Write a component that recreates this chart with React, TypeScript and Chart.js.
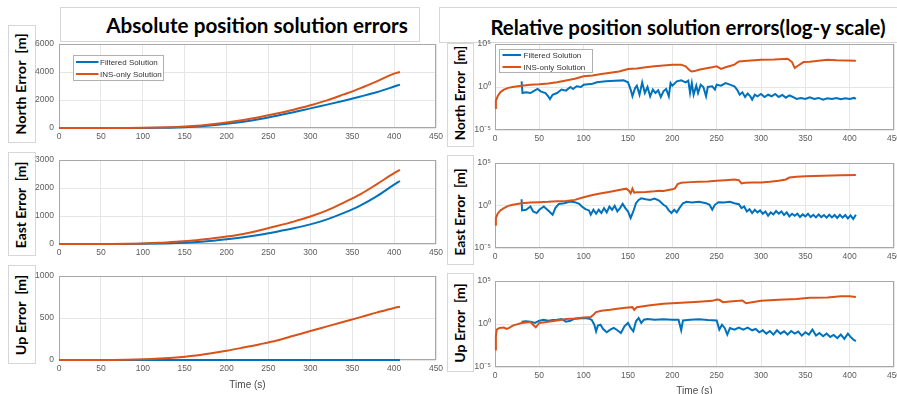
import React, { useEffect, useLayoutEffect, useRef, useState } from "react";
import { Chart, registerables } from "chart.js";

Chart.register(...registerables);

const BLUE = "#0072BD";
const ORANGE = "#D95319";

const titles = ["Absolute position solution errors", "Relative position solution errors(log-y scale)"];
const axisLabels = ["North Error  [m]", "East Error  [m]", "Up Error  [m]"];
const seriesNames = ["Filtered Solution", "INS-only Solution"];
const xTitle = "Time (s)";

const timeTicks = [0, 50, 100, 150, 200, 250, 300, 350, 400, 450];
const northTicks = [0, 2000, 4000, 6000];
const eastTicks = [0, 1000, 2000, 3000];
const upTicks = [0, 500, 1000];
const logTicks = [1e-5, 1, 1e5];
const logTickLabels = ["10\u207B\u2075", "10\u2070", "10\u2075"];

// absolute errors [m]
const absTime = [0, 20, 40, 60, 80, 100, 120, 140, 160, 180, 200, 220, 240, 260, 280, 300, 320, 340, 360, 380, 400, 407];
const absNorthFiltered = [0, 0, 0, 0, 1, 4, 15, 40, 95, 180, 300, 450, 640, 870, 1120, 1400, 1670, 1950, 2250, 2570, 2960, 3100];
const absNorthIns = [0, 0, 0, 1, 3, 10, 30, 70, 140, 250, 390, 570, 790, 1030, 1300, 1620, 1970, 2400, 2850, 3350, 3880, 4000];
const absEastFiltered = [0, 0, 0, 0, 2, 8, 18, 32, 60, 105, 167, 240, 330, 440, 560, 700, 880, 1110, 1380, 1720, 2120, 2250];
const absEastIns = [0, 0, 0, 2, 6, 18, 42, 80, 125, 190, 265, 360, 490, 640, 800, 980, 1200, 1480, 1780, 2150, 2530, 2650];
const absUpFiltered = [0, 0, 0, 0, 0, 0, 0, 0, 0, 0, 0, 0, 0, 0, 0, 0, 0, 0, 0, 0, 0, 0];
const absUpIns = [0, 0, 0, 1, 3, 8, 17, 30, 50, 78, 110, 148, 188, 232, 288, 345, 400, 455, 510, 567, 620, 635];

// relative errors: [time s, log10(error m)]
const relNorthInsLog10: [number, number][] = [
  [0, -2.43], [1, -1.6], [3, -1.08], [6, -0.6], [10, -0.3], [15, -0.1], [20, 0], [30, 0.15], [40, 0.25], [50, 0.32],
  [60, 0.42], [70, 0.55], [80, 0.75], [90, 0.95], [100, 1.24], [110, 1.35], [120, 1.5], [130, 1.65], [140, 1.8],
  [150, 2.08], [160, 2.15], [170, 2.3], [180, 2.4], [190, 2.5], [200, 2.59], [210, 2.6], [215, 2.4], [220, 1.9],
  [222, 1.8], [225, 1.85], [230, 2.0], [240, 2.2], [245, 2.3], [250, 2.4], [255, 2.1], [260, 2.3], [265, 2.45],
  [270, 2.6], [275, 2.97], [285, 3.05], [300, 3.17], [315, 3.2], [330, 3.28], [335, 2.9], [338, 2.2], [342, 2.5],
  [348, 2.9], [355, 2.95], [365, 3.05], [375, 3.17], [385, 3.1], [395, 3.08], [407, 3.05],
];
const relNorthFilteredLog10: [number, number][] = [
  [30, 0.66], [31, -0.7], [35, -0.6], [40, -0.7], [45, -0.4], [48, -0.23], [52, -0.54], [57, -0.7], [60, -1.08],
  [62, -1.4], [65, -0.9], [70, -0.7], [75, -0.3], [80, -0.42], [85, 0], [88, -0.23], [92, 0.08], [97, 0], [100, 0.27],
  [110, 0.39], [115, 0.54], [125, 0.66], [135, 0.73], [145, 0.77], [150, 0.54], [153, -0.3], [155, -1.08], [158, -0.12],
  [160, 0.15], [163, -0.9], [166, 0.54], [169, -0.7], [172, 0], [175, -1.08], [178, -0.3], [181, -0.7], [184, -0.39],
  [187, -1.16], [190, -0.5], [193, -0.23], [196, -1.08], [198, 0.46], [200, 0.15], [205, 0.66], [210, 0.77],
  [215, 0.54], [218, 0.73], [220, -0.7], [222, 0.46], [224, -0.9], [227, 0.15], [229, -0.7], [232, 0.27], [235, 0],
  [238, -1.08], [240, 0], [245, 0.08], [248, -0.3], [250, 0.27], [255, 0.15], [260, 0.46], [265, 0.27], [270, 0.08],
  [273, -0.3], [276, -0.9], [279, -0.62], [282, -1.16], [285, -0.77], [288, -1.08], [290, -1.47], [293, -0.9],
  [296, -1.08], [300, -0.81], [304, -1.16], [308, -0.9], [312, -1.08], [316, -0.81], [320, -1.16], [324, -0.93],
  [328, -1.24], [332, -0.97], [336, -1.16], [340, -1.39], [345, -1.27], [350, -1.39], [355, -1.2], [360, -1.39],
  [365, -1.27], [370, -1.47], [375, -1.31], [380, -1.39], [385, -1.27], [390, -1.43], [395, -1.31], [400, -1.39],
  [405, -1.27], [407, -1.39],
];
const relEastInsLog10: [number, number][] = [
  [0, -2.25], [1, -1.47], [3, -0.97], [6, -0.58], [10, -0.31], [15, -0.04], [20, 0.08], [30, 0.27], [40, 0.35],
  [50, 0.39], [60, 0.43], [70, 0.5], [80, 0.54], [90, 0.66], [100, 0.97], [110, 1.24], [120, 1.43], [130, 1.63],
  [140, 1.82], [148, 1.98], [151, 1.74], [153, 1.43], [155, 1.98], [157, 1.51], [160, 1.55], [170, 1.59], [180, 1.67],
  [185, 1.74], [190, 1.7], [200, 1.9], [203, 2.02], [206, 2.52], [210, 2.67], [220, 2.75], [230, 2.79], [240, 2.83],
  [250, 2.9], [260, 2.98], [270, 3.06], [275, 2.98], [278, 2.6], [282, 2.67], [290, 2.71], [300, 2.71], [310, 2.79],
  [320, 2.9], [328, 3.06], [332, 3.29], [340, 3.37], [350, 3.45], [370, 3.49], [390, 3.57], [407, 3.6],
];
const relEastFilteredLog10: [number, number][] = [
  [30, 0.74], [30.5, -0.58], [35, -0.5], [40, -0.12], [43, -0.7], [47, -0.89], [50, -0.5], [55, -0.12], [60, -0.58],
  [65, -1.09], [68, -0.31], [72, 0.19], [78, 0.27], [85, 0.47], [90, 0.39], [95, 0.19], [98, -0.12], [102, -0.43],
  [106, -0.58], [108, -1.09], [111, -0.5], [114, -0.97], [117, -0.5], [120, -0.89], [123, -0.31], [126, -0.81],
  [129, -0.12], [132, -0.5], [135, -0.04], [138, -0.7], [141, -0.31], [144, 0.19], [147, -0.31], [150, -0.7],
  [153, -1.47], [156, -0.7], [159, 0.27], [162, 0.66], [165, 0.85], [170, 0.74], [175, 0.66], [180, 0.81], [185, 0.58],
  [190, 0.08], [193, -0.12], [196, -0.58], [199, -0.89], [202, -0.5], [205, -0.81], [208, -0.31], [212, 0.27],
  [216, 0.43], [222, 0.35], [230, 0.43], [238, 0.27], [242, 0.08], [245, -0.5], [248, 0.08], [252, 0.39], [258, 0.35],
  [265, 0.43], [270, 0.27], [275, 0.15], [278, -0.31], [281, -0.12], [284, -0.7], [287, -0.43], [290, -0.89],
  [293, -0.5], [296, -0.81], [299, -0.58], [302, -0.97], [305, -0.7], [308, -1.2], [311, -0.81], [314, -1.05],
  [317, -0.66], [320, -0.97], [323, -0.7], [326, -1.12], [329, -0.81], [332, -1.28], [335, -0.97], [338, -1.2],
  [341, -0.97], [344, -1.36], [347, -1.05], [350, -1.28], [353, -0.97], [356, -1.36], [359, -1.09], [362, -1.4],
  [365, -1.05], [368, -1.36], [371, -1.12], [374, -1.43], [377, -1.09], [380, -1.4], [383, -1.12], [386, -1.47],
  [389, -1.09], [392, -1.43], [395, -1.12], [398, -1.51], [401, -1.16], [404, -1.59], [407, -1.09],
];
const relUpInsLog10: [number, number][] = [
  [0, -2.96], [1, -1.42], [2, -0.65], [5, -0.46], [10, -0.42], [13, -0.58], [16, -0.46], [20, -0.19], [30, 0.12],
  [40, 0.23], [43, -0.08], [46, -0.38], [50, 0.12], [60, 0.27], [70, 0.42], [80, 0.58], [90, 0.65], [100, 0.77],
  [108, 0.81], [111, 1.08], [114, 1.38], [120, 1.54], [130, 1.65], [140, 1.81], [150, 1.92], [155, 1.96], [157, 1.65],
  [160, 1.96], [175, 2.19], [190, 2.35], [200, 2.42], [215, 2.5], [230, 2.58], [245, 2.69], [250, 2.85], [253, 2.81],
  [257, 2.54], [265, 2.62], [275, 2.69], [279, 2.73], [283, 2.42], [290, 2.54], [300, 2.69], [320, 2.81], [340, 2.92],
  [355, 3.04], [375, 3.08], [390, 3.23], [400, 3.23], [407, 3.15],
];
const relUpFilteredLog10: [number, number][] = [
  [30, 0.27], [35, 0.31], [40, 0.27], [45, 0.12], [50, 0.38], [55, 0.5], [60, 0.38], [65, 0.46], [70, 0.5], [75, 0.58],
  [80, 0.27], [85, 0.38], [90, 0.62], [95, 0.65], [100, 0.69], [105, 0.65], [109, 0.5], [112, -0.08], [114, -0.85],
  [116, -0.19], [119, -0.08], [122, -0.58], [126, -0.96], [130, -0.65], [134, -0.46], [138, -0.73], [142, -1.04],
  [146, -0.27], [150, 0.12], [153, -0.46], [156, -0.85], [159, 0.31], [162, 0.69], [165, 0.12], [168, 0.5], [172, 0.58],
  [180, 0.5], [190, 0.54], [200, 0.5], [207, 0.5], [210, -0.73], [212, 0.42], [220, 0.5], [230, 0.54], [240, 0.46],
  [250, 0.42], [253, -0.65], [256, -0.08], [259, -0.46], [262, -1.23], [265, -0.46], [270, -0.65], [275, -0.42],
  [280, -0.65], [285, -0.42], [290, -0.73], [294, -0.58], [298, -0.96], [302, -0.73], [306, -1.12], [310, -0.81],
  [314, -1.23], [318, -0.73], [322, -1.12], [326, -0.85], [330, -1.23], [334, -0.81], [338, -1.12], [342, -0.88],
  [346, -1.35], [350, -0.96], [354, -1.23], [358, -0.65], [362, -1.35], [366, -1.04], [370, -1.42], [374, -1.12],
  [378, -1.5], [382, -1.27], [386, -1.65], [390, -1.23], [394, -1.73], [398, -1.12], [401, -1.5], [404, -1.81],
  [407, -2.0],
];

type Pt = { x: number; y: number };
type Rect = { left: number; top: number; width: number; height: number };
type LegendSpec = { dx: number; dy: number; w: number; h: number; rows: number[]; l0: number; l1: number; tx: number };
type Series = { label: string; color: string; points: Pt[]; order: number };

const fromArrays = (xs: number[], ys: number[]): Pt[] => xs.map((x, i) => ({ x, y: ys[i] }));
const fromLog = (pairs: [number, number][]): Pt[] => pairs.map(([x, e]) => ({ x, y: Math.pow(10, e) }));

const TICK_FONT = { family: "'Liberation Sans', Arial, sans-serif", size: 8.5 };
const Y_AXIS_W = 50;
const PAD_TOP = 8;
const PAD_RIGHT = 14;

const framePlugin = {
  id: "frameBox",
  beforeDatasetsDraw(chart: any) {
    const { ctx, chartArea: a } = chart;
    ctx.save();
    ctx.strokeStyle = "#a8a8a8";
    ctx.lineWidth = 1;
    ctx.strokeRect(Math.round(a.left) + 0.5, Math.round(a.top) + 0.5, Math.round(a.right - a.left) - 1, Math.round(a.bottom - a.top) - 1);
    ctx.restore();
  },
};

const legendPlugin = {
  id: "miniLegend",
  afterDatasetsDraw(chart: any, _args: any, opts: any) {
    if (!opts || !opts.spec) return;
    const s: LegendSpec = opts.spec;
    const { ctx, chartArea: a } = chart;
    const bx = Math.round(a.left + s.dx) + 0.5;
    const by = Math.round(a.top + s.dy) + 0.5;
    ctx.save();
    ctx.fillStyle = "#ffffff";
    ctx.fillRect(bx, by, s.w, s.h);
    ctx.strokeStyle = "#b0b0b0";
    ctx.lineWidth = 1;
    ctx.strokeRect(bx, by, s.w, s.h);
    ctx.font = "8px 'Liberation Sans', Arial, sans-serif";
    ctx.textBaseline = "middle";
    ctx.textAlign = "left";
    chart.data.datasets.forEach((ds: any, i: number) => {
      const y = by + s.rows[i];
      ctx.strokeStyle = ds.borderColor;
      ctx.lineWidth = 2;
      ctx.beginPath();
      ctx.moveTo(bx + s.l0, y);
      ctx.lineTo(bx + s.l1, y);
      ctx.stroke();
      ctx.fillStyle = "#333333";
      ctx.fillText(ds.label, bx + s.tx, y + 0.5);
    });
    ctx.restore();
  },
};

interface PlotProps {
  rect: Rect;
  log: boolean;
  yMin: number;
  yMax: number;
  yTicks: number[];
  yTickLabels?: string[];
  series: Series[];
  legend?: LegendSpec;
  showXTitle?: boolean;
  xAxisH: number;
}

function Plot({ rect, log, yMin, yMax, yTicks, yTickLabels, series, legend, showXTitle, xAxisH }: PlotProps) {
  const ref = useRef<HTMLCanvasElement>(null);
  const cw = Y_AXIS_W + rect.width + PAD_RIGHT;
  const ch = PAD_TOP + rect.height + xAxisH;
  useEffect(() => {
    if (!ref.current) return;
    const chart = new Chart(ref.current, {
      type: "line",
      data: {
        datasets: series.map((s) => ({
          label: s.label,
          data: s.points,
          borderColor: s.color,
          backgroundColor: s.color,
          borderWidth: 2,
          pointRadius: 0,
          tension: 0,
          cubicInterpolationMode: log ? "default" : "monotone",
          order: s.order,
          clip: 3,
        })),
      },
      options: {
        responsive: false,
        animation: false,
        devicePixelRatio: 1,
        events: [],
        layout: { padding: { left: 0, top: PAD_TOP, right: PAD_RIGHT, bottom: 0 } },
        plugins: {
          legend: { display: false },
          tooltip: { enabled: false },
          miniLegend: legend ? { spec: legend } : { spec: null },
        } as any,
        scales: {
          x: {
            type: "linear",
            min: 0,
            max: 450,
            afterBuildTicks: (sc: any) => {
              sc.ticks = timeTicks.map((v) => ({ value: v }));
            },
            afterFit: (sc: any) => {
              sc.height = xAxisH;
              sc.paddingLeft = 0;
              sc.paddingRight = 0;
            },
            ticks: { font: TICK_FONT, color: "#5c5c5c", padding: 4, maxRotation: 0, autoSkip: false },
            grid: { color: "#e6e6e6", drawTicks: false, lineWidth: 1 },
            border: { display: false },
            title: {
              display: !!showXTitle,
              text: xTitle,
              color: "#4a4a4a",
              font: { family: "'Liberation Sans', Arial, sans-serif", size: 10 },
              padding: { top: 0, bottom: 2 },
            },
          },
          y: {
            type: log ? "logarithmic" : "linear",
            min: yMin,
            max: yMax,
            afterBuildTicks: (sc: any) => {
              sc.ticks = yTicks.map((v) => ({ value: v }));
            },
            afterFit: (sc: any) => {
              sc.width = Y_AXIS_W;
              sc.paddingTop = 0;
              sc.paddingBottom = 0;
            },
            ticks: {
              font: log ? { family: "'Liberation Sans', Arial, sans-serif", size: 9 } : TICK_FONT,
              color: "#5c5c5c",
              padding: log ? 4 : 5,
              autoSkip: false,
              callback: (v: any) => {
                const i = yTicks.findIndex((t) => Math.abs(t - Number(v)) <= Math.abs(t) * 1e-6);
                if (i < 0) return "";
                return yTickLabels ? yTickLabels[i] : String(yTicks[i]);
              },
            },
            grid: { color: "#e6e6e6", drawTicks: false, lineWidth: 1 },
            border: { display: false },
          },
        },
      },
      plugins: [framePlugin, legendPlugin],
    } as any);
    return () => chart.destroy();
  }, []);
  return (
    <canvas
      ref={ref}
      width={cw}
      height={ch}
      style={{ position: "absolute", left: rect.left - Y_AXIS_W, top: rect.top - PAD_TOP, width: cw, height: ch }}
    />
  );
}

function FitText({ text, cx, cy, target, font, rotate }: { text: string; cx: number; cy: number; target: number; font: string; rotate?: boolean }) {
  const ref = useRef<HTMLSpanElement>(null);
  const [s, setS] = useState(1);
  useLayoutEffect(() => {
    if (ref.current) {
      const w = ref.current.offsetWidth;
      if (w) setS(target / w);
    }
  }, [text, target]);
  return (
    <span
      ref={ref}
      style={{
        position: "absolute",
        left: cx,
        top: cy,
        whiteSpace: "pre",
        font,
        lineHeight: 1,
        color: "#000",
        transform: `translate(-50%, -50%) ${rotate ? "rotate(-90deg) " : ""}scaleX(${s})`,
      }}
    >
      {text}
    </span>
  );
}

function Box({ x0, y0, x1, y1 }: { x0: number; y0: number; x1: number; y1: number }) {
  return (
    <div
      style={{
        position: "absolute",
        left: x0,
        top: y0,
        width: x1 - x0,
        height: y1 - y0,
        border: "1px solid #d6d6d6",
        boxSizing: "border-box",
        background: "#fff",
      }}
    />
  );
}

const legendLeft: LegendSpec = { dx: 14, dy: 11, w: 90, h: 25, rows: [6.5, 18.5], l0: 2.5, l1: 25, tx: 26.5 };
const legendRight: LegendSpec = { dx: 4, dy: 5, w: 93, h: 23, rows: [5.5, 17.5], l0: 3, l1: 21.5, tx: 24 };

const TITLE_FONT = "bold 21px Lato, 'Open Sans', sans-serif";
const LABEL_FONT = "bold 13.5px Lato, 'Open Sans', sans-serif";

export default function App() {
  const absSeries = (f: number[], ins: number[]): Series[] => [
    { label: seriesNames[0], color: BLUE, points: fromArrays(absTime, f), order: 1 },
    { label: seriesNames[1], color: ORANGE, points: fromArrays(absTime, ins), order: 0 },
  ];
  const relSeries = (f: [number, number][], ins: [number, number][]): Series[] => [
    { label: seriesNames[0], color: BLUE, points: fromLog(f), order: 1 },
    { label: seriesNames[1], color: ORANGE, points: fromLog(ins), order: 0 },
  ];
  return (
    <div style={{ position: "fixed", left: 0, top: 0, width: 897, height: 394, background: "#fff", overflow: "hidden" }}>
      <Box x0={60} y0={7} x1={420} y1={42} />
      <Box x0={439} y0={7} x1={900} y1={43} />
      <Box x0={8} y0={25} x1={36} y1={143} />
      <Box x0={8} y0={152} x1={36} y1={256} />
      <Box x0={8} y0={265} x1={36} y1={364} />
      <Box x0={447} y0={43} x1={474} y1={147} />
      <Box x0={447} y0={155} x1={474} y1={265} />
      <Box x0={447} y0={273} x1={474} y1={372} />

      <FitText text={titles[0]} cx={256.5} cy={24} target={302} font={TITLE_FONT} />
      <FitText text={titles[1]} cx={687.5} cy={25.5} target={395} font={TITLE_FONT} />

      <FitText text={axisLabels[0]} cx={22} cy={84} target={102} font={LABEL_FONT} rotate />
      <FitText text={axisLabels[1]} cx={22} cy={205} target={86} font={LABEL_FONT} rotate />
      <FitText text={axisLabels[2]} cx={22} cy={315} target={80} font={LABEL_FONT} rotate />
      <FitText text={axisLabels[0]} cx={461} cy={92.5} target={95} font={LABEL_FONT} rotate />
      <FitText text={axisLabels[1]} cx={461} cy={211.5} target={87} font={LABEL_FONT} rotate />
      <FitText text={axisLabels[2]} cx={461} cy={322.5} target={79} font={LABEL_FONT} rotate />

      <Plot rect={{ left: 59, top: 44, width: 377, height: 84 }} log={false} yMin={0} yMax={6000} yTicks={northTicks}
        series={absSeries(absNorthFiltered, absNorthIns)} legend={legendLeft} xAxisH={16} />
      <Plot rect={{ left: 59, top: 160, width: 377, height: 84 }} log={false} yMin={0} yMax={3000} yTicks={eastTicks}
        series={absSeries(absEastFiltered, absEastIns)} xAxisH={16} />
      <Plot rect={{ left: 59, top: 276, width: 377, height: 84 }} log={false} yMin={0} yMax={1000} yTicks={upTicks}
        series={absSeries(absUpFiltered, absUpIns)} showXTitle xAxisH={33} />

      <Plot rect={{ left: 495, top: 44, width: 399, height: 86 }} log yMin={1e-5} yMax={1e5} yTicks={logTicks} yTickLabels={logTickLabels}
        series={relSeries(relNorthFilteredLog10, relNorthInsLog10)} legend={legendRight} xAxisH={16} />
      <Plot rect={{ left: 495, top: 163, width: 399, height: 85 }} log yMin={1e-5} yMax={1e5} yTicks={logTicks} yTickLabels={logTickLabels}
        series={relSeries(relEastFilteredLog10, relEastInsLog10)} xAxisH={16} />
      <Plot rect={{ left: 495, top: 281, width: 399, height: 86 }} log yMin={1e-5} yMax={1e5} yTicks={logTicks} yTickLabels={logTickLabels}
        series={relSeries(relUpFilteredLog10, relUpInsLog10)} showXTitle xAxisH={32} />
    </div>
  );
}
